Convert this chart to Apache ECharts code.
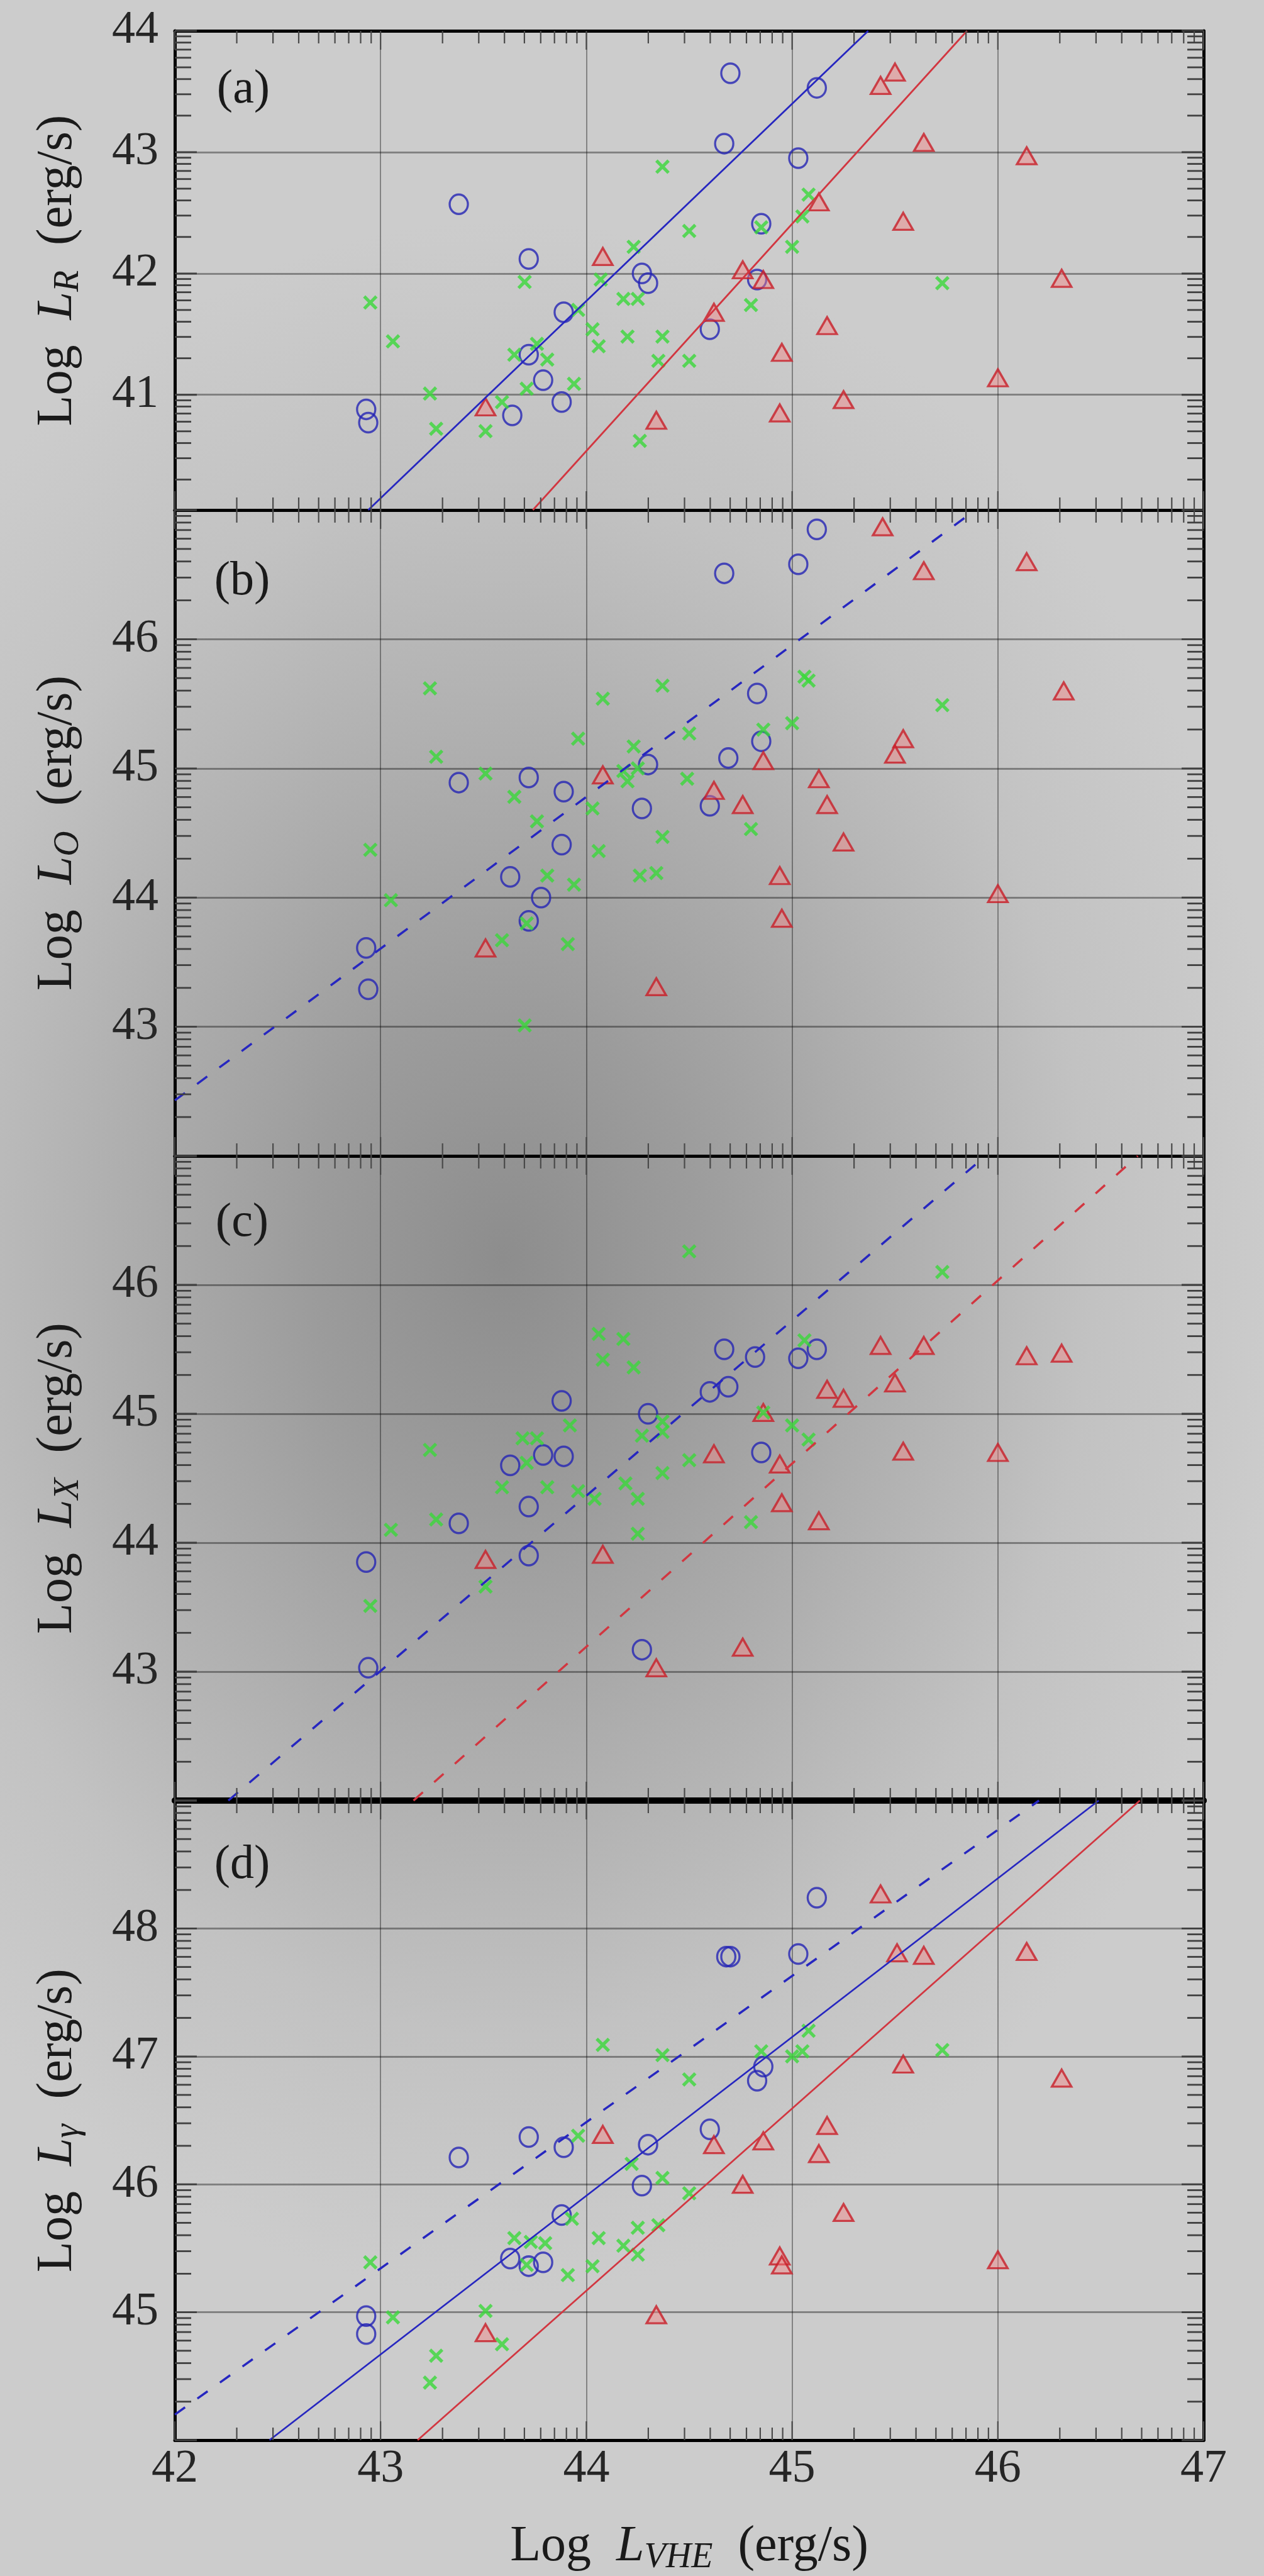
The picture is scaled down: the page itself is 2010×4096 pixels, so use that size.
<!DOCTYPE html>
<html>
<head>
<meta charset="utf-8">
<script src="https://cdn.jsdelivr.net/npm/echarts@6.0.0/dist/echarts.min.js"></script>
<style>
html,body{margin:0;padding:0;}
body{width:2010px;height:4096px;background-color:#cccccc;
background-image:radial-gradient(ellipse 1250px 1650px at 800px 2000px,#8d8d8d 0%,#9c9c9c 25%,#afafaf 50%,#c2c2c2 75%,#cccccc 100%);}
#chart{width:2010px;height:4096px;}
</style>
</head>
<body>
<div id="chart"></div>
<script>
// ---------------- data ----------------
const xTickLabels = [42, 43, 44, 45, 46, 47];
const yTickLabelsA = [41, 42, 43, 44];
const yTickLabelsB = [43, 44, 45, 46];
const yTickLabelsC = [43, 44, 45, 46];
const yTickLabelsD = [45, 46, 47, 48];
const xRange = [42, 47];
const yRangeA = [40.05, 44];
const yRangeB = [42, 47];
const yRangeC = [42, 47];
const yRangeD = [44, 49];
const panelTags = ['(a)', '(b)', '(c)', '(d)'];
const ySubscripts = ['R', 'O', 'X', 'γ'];
const xSubscript = 'VHE';

// panel (a): Log L_R
const aBlue = [[44.70,43.65],[45.12,43.53],[44.67,43.07],[45.03,42.95],[43.38,42.57],[44.85,42.41],[43.72,42.12],[44.27,42.00],[44.30,41.92],[44.83,41.95],[43.89,41.68],[44.60,41.54],[43.72,41.33],[43.79,41.12],[43.88,40.94],[43.64,40.83],[42.93,40.88],[42.94,40.77]];
const aRed = [[45.50,43.66],[45.43,43.55],[45.64,43.08],[46.14,42.97],[45.13,42.59],[45.54,42.43],[44.08,42.14],[44.76,42.03],[44.86,41.95],[46.31,41.96],[44.62,41.68],[45.17,41.57],[44.95,41.35],[46.00,41.14],[45.25,40.96],[43.51,40.90],[44.94,40.85],[44.34,40.79]];
const aGreen = [[44.37,42.88],[45.08,42.65],[45.05,42.47],[44.50,42.35],[44.23,42.22],[45.00,42.22],[44.85,42.38],[44.07,41.95],[43.70,41.93],[45.73,41.92],[42.95,41.76],[44.18,41.79],[44.25,41.79],[44.80,41.74],[43.96,41.70],[43.06,41.44],[44.03,41.54],[44.06,41.40],[44.20,41.48],[44.37,41.48],[43.76,41.42],[43.65,41.33],[43.81,41.29],[44.35,41.28],[44.50,41.28],[43.94,41.09],[43.71,41.05],[43.24,41.01],[43.59,40.94],[43.27,40.72],[43.51,40.70],[44.26,40.62]];
const aBlueFit = [[42.94,40.05],[45.37,44.00]];
const aRedFit = [[43.74,40.05],[45.85,44.00]];

// panel (b): Log L_O
const bBlue = [[45.12,46.85],[45.03,46.58],[44.67,46.51],[44.83,45.58],[44.85,45.21],[44.69,45.08],[44.30,45.03],[43.72,44.93],[43.38,44.89],[43.89,44.82],[44.27,44.69],[44.60,44.71],[43.88,44.41],[43.63,44.16],[43.78,44.00],[43.72,43.82],[42.93,43.61],[42.94,43.29]];
const bRed = [[45.44,46.87],[45.64,46.53],[46.14,46.60],[46.32,45.60],[45.54,45.23],[45.50,45.11],[44.86,45.06],[44.08,44.95],[45.13,44.92],[44.62,44.83],[44.76,44.72],[45.17,44.72],[45.25,44.43],[44.94,44.17],[46.00,44.03],[44.95,43.84],[43.51,43.61],[44.34,43.31]];
const bGreen = [[43.24,45.62],[44.37,45.64],[44.08,45.54],[45.06,45.71],[45.08,45.68],[45.73,45.49],[45.00,45.35],[44.86,45.30],[44.50,45.27],[43.96,45.23],[44.23,45.17],[43.27,45.09],[43.51,44.96],[44.18,44.98],[44.25,45.00],[44.20,44.90],[44.49,44.92],[43.65,44.78],[44.03,44.69],[43.76,44.59],[44.80,44.53],[44.37,44.47],[42.95,44.37],[44.06,44.36],[43.81,44.17],[44.26,44.17],[44.34,44.19],[43.94,44.10],[43.05,43.98],[43.59,43.67],[43.71,43.80],[43.91,43.64],[43.70,43.01]];
const bBlueFitDash = [[42.00,42.43],[45.89,47.00]];

// panel (c): Log L_X
const cBlue = [[44.67,45.50],[44.82,45.44],[45.03,45.43],[45.12,45.50],[44.60,45.17],[44.69,45.21],[43.88,45.10],[44.30,45.00],[44.85,44.70],[43.79,44.68],[43.89,44.67],[43.63,44.60],[43.72,44.28],[43.38,44.15],[43.72,43.90],[42.93,43.85],[42.94,43.03],[44.27,43.17]];
const cRed = [[45.43,45.53],[45.64,45.53],[46.14,45.45],[46.31,45.47],[45.50,45.24],[45.17,45.19],[45.25,45.12],[44.86,45.01],[44.62,44.69],[45.54,44.71],[46.00,44.70],[44.94,44.61],[44.95,44.31],[45.13,44.17],[44.08,43.91],[43.51,43.87],[44.76,43.19],[44.34,43.03]];
const cGreen = [[44.50,46.26],[45.73,46.10],[44.06,45.62],[44.18,45.58],[44.08,45.42],[44.23,45.36],[45.06,45.57],[43.92,44.91],[44.37,44.94],[44.37,44.86],[45.00,44.91],[45.08,44.80],[44.27,44.83],[43.69,44.81],[43.76,44.81],[43.24,44.72],[44.50,44.64],[43.71,44.62],[44.37,44.54],[43.59,44.43],[43.81,44.43],[43.96,44.40],[44.19,44.46],[44.04,44.34],[44.25,44.34],[43.27,44.18],[43.05,44.10],[44.80,44.16],[44.25,44.07],[43.51,43.66],[42.95,43.51],[44.86,45.01]];
const cBlueFitDash = [[42.26,42.00],[45.94,47.00]];
const cRedFitDash = [[43.16,42.00],[46.68,47.00]];

// panel (d): Log L_gamma
const dBlue = [[45.12,48.24],[44.68,47.78],[44.70,47.78],[45.03,47.80],[44.86,46.92],[44.83,46.81],[43.72,46.37],[43.38,46.21],[43.89,46.29],[44.30,46.31],[44.60,46.43],[44.27,45.99],[43.88,45.76],[43.63,45.42],[43.72,45.36],[43.79,45.39],[42.93,44.97],[42.93,44.83]];
const dRed = [[45.43,48.27],[45.51,47.81],[45.64,47.79],[46.14,47.82],[45.54,46.94],[46.31,46.83],[45.17,46.46],[44.08,46.39],[44.62,46.31],[44.86,46.34],[45.13,46.24],[44.76,46.00],[45.25,45.78],[44.94,45.44],[44.95,45.37],[46.00,45.41],[43.51,44.84],[44.34,44.98]];
const dGreen = [[44.08,47.09],[44.37,47.01],[44.50,46.82],[44.85,47.04],[45.00,47.00],[45.05,47.04],[45.08,47.20],[45.73,47.05],[43.96,46.38],[44.22,46.16],[44.37,46.05],[44.50,45.93],[43.93,45.73],[44.06,45.58],[44.18,45.52],[44.25,45.66],[44.35,45.68],[44.25,45.45],[43.65,45.58],[43.73,45.55],[43.80,45.54],[43.71,45.37],[43.91,45.29],[44.03,45.36],[42.95,45.39],[43.06,44.96],[43.51,45.01],[43.59,44.75],[43.27,44.66],[43.24,44.45]];
const dBlueFitDash = [[42.00,44.20],[46.20,49.00]];
const dBlueFit = [[42.46,44.00],[46.49,49.00]];
const dRedFit = [[43.18,44.00],[46.69,49.00]];

// ---------------- layout & style ----------------
const FONT = '"Liberation Serif", "Times New Roman", serif';
const BLUE = '#2424b4', BLUELINE = '#2626c0', RED = '#c81e28', REDLINE = '#d23640', GREEN = '#3ad83a';
const TEXT = '#1a1a1a';
const CROSS = 'path://M0,1.6L1.6,0L5,3.4L8.4,0L10,1.6L6.6,5L10,8.4L8.4,10L5,6.6L1.6,10L0,8.4L3.4,5Z';
const GRID_LEFT = 278, GRID_W = 1636;
const gridTops = [49, 811, 1838, 2863];
const gridHeights = [762, 1027, 1025, 1025];
const tagPos = [[387, 143], [385, 925], [385, 1945], [385, 2966]];
const TICK_X_STYLE = { stroke: '#4a4a4a', lineWidth: 2.2 };
const TICK_Y_STYLE = { stroke: '#404040', lineWidth: 2.8 };
const TICK_LEN = { xMajor: 30, xMinor: 20, yMajor: 35, yMinor: 26 };

const yRanges = [yRangeA, yRangeB, yRangeC, yRangeD];
const yLabelSets = [yTickLabelsA, yTickLabelsB, yTickLabelsC, yTickLabelsD];

function integersIn(lo, hi) {
  const out = [];
  for (let v = Math.ceil(lo - 1e-9); v <= hi + 1e-9; v++) out.push(v);
  return out;
}
function logMinorIn(lo, hi) {
  const out = [];
  for (let n = Math.floor(lo) - 1; n <= Math.ceil(hi); n++) {
    for (let k = 2; k <= 9; k++) {
      const v = n + Math.log10(k);
      if (v > lo + 1e-6 && v < hi - 1e-6) out.push(v);
    }
  }
  return out;
}

const richStyles = {
  r: { fontFamily: FONT, fontSize: 80, color: TEXT, lineHeight: 100, verticalAlign: 'middle' },
  i: { fontFamily: FONT, fontSize: 80, fontStyle: 'italic', color: TEXT, lineHeight: 100, verticalAlign: 'middle' },
  s: { fontFamily: FONT, fontSize: 56, fontStyle: 'italic', color: TEXT, lineHeight: 100, verticalAlign: 'top', padding: [39, 0, 0, 0] }
};
function axisTitle(sub) { return '{r|Log  }{i|L}{s|' + sub + '}{r|  (erg/s)}'; }

const grids = [], xAxes = [], yAxes = [], series = [], graphics = [];

// tick marks drawn through the axis scales (log-style minor ticks like the original)
function tickSeries(g, ylo, yhi) {
  const data = [];
  integersIn(xRange[0], xRange[1]).forEach(v => data.push([v, 0, 1]));
  logMinorIn(xRange[0], xRange[1]).forEach(v => data.push([v, 0, 0]));
  integersIn(ylo, yhi).forEach(v => data.push([v, 1, 1]));
  logMinorIn(ylo, yhi).forEach(v => data.push([v, 1, 0]));
  return {
    type: 'custom', xAxisIndex: 2 * g, yAxisIndex: 2 * g, data: data, clip: false, silent: true, z: 6,
    renderItem: function (params, api) {
      const v = api.value(0), dir = api.value(1), major = api.value(2) === 1;
      const cs = params.coordSys;
      if (dir === 0) {
        const px = api.coord([v, ylo])[0];
        const L = major ? TICK_LEN.xMajor : TICK_LEN.xMinor;
        return { type: 'group', children: [
          { type: 'line', shape: { x1: px, y1: cs.y, x2: px, y2: cs.y + L }, style: TICK_X_STYLE },
          { type: 'line', shape: { x1: px, y1: cs.y + cs.height, x2: px, y2: cs.y + cs.height - L }, style: TICK_X_STYLE }
        ] };
      }
      const py = api.coord([xRange[0], v])[1];
      const L = major ? TICK_LEN.yMajor : TICK_LEN.yMinor;
      return { type: 'group', children: [
        { type: 'line', shape: { x1: cs.x, y1: py, x2: cs.x + L, y2: py }, style: TICK_Y_STYLE },
        { type: 'line', shape: { x1: cs.x + cs.width, y1: py, x2: cs.x + cs.width - L, y2: py }, style: TICK_Y_STYLE }
      ] };
    }
  };
}

for (let g = 0; g < 4; g++) {
  grids.push({ left: GRID_LEFT, width: GRID_W, top: gridTops[g], height: gridHeights[g], containLabel: false });
  const [ylo, yhi] = yRanges[g];
  const bottomW = g === 2 ? 10 : 5;
  const topW = g === 3 ? 10 : 5;
  const isLast = g === 3;
  const xb = { type: 'value', gridIndex: g, min: xRange[0], max: xRange[1], interval: 1 };
  xAxes.push(Object.assign({}, xb, {
    position: 'bottom',
    axisLine: { show: true, onZero: false, lineStyle: { color: '#000', width: bottomW } },
    axisTick: { show: false, customValues: xTickLabels },
    splitLine: { show: true, lineStyle: { color: 'rgba(0,0,0,0.36)', width: 2 } },
    axisLabel: { show: isLast, customValues: xTickLabels, fontFamily: FONT, fontSize: 74, color: '#262626', margin: 10 },
    name: isLast ? axisTitle(xSubscript) : '',
    nameLocation: 'middle', nameGap: 120,
    nameTextStyle: { rich: richStyles }
  }));
  xAxes.push(Object.assign({}, xb, {
    position: 'top',
    axisLine: { show: true, onZero: false, lineStyle: { color: '#000', width: topW } },
    axisTick: { show: false }, splitLine: { show: false }, axisLabel: { show: false }
  }));
  const yb = { type: 'value', gridIndex: g, min: ylo, max: yhi };
  const yInts = integersIn(ylo, yhi);
  yAxes.push(Object.assign({}, yb, {
    position: 'left',
    axisLine: { show: true, onZero: false, lineStyle: { color: '#000', width: 5 } },
    axisTick: { show: false, customValues: yInts },
    splitLine: { show: true, lineStyle: { color: 'rgba(0,0,0,0.36)', width: 3.2 } },
    axisLabel: { show: true, customValues: yLabelSets[g], fontFamily: FONT, fontSize: 74, color: '#262626', margin: 26 },
    name: axisTitle(ySubscripts[g]),
    nameLocation: 'middle', nameGap: 136, nameRotate: 90,
    nameTextStyle: { rich: richStyles }
  }));
  yAxes.push(Object.assign({}, yb, {
    position: 'right',
    axisLine: { show: true, onZero: false, lineStyle: { color: '#000', width: 5 } },
    axisTick: { show: false }, splitLine: { show: false }, axisLabel: { show: false }
  }));

  graphics.push({
    type: 'text', x: tagPos[g][0], y: tagPos[g][1], z: 10,
    style: { text: panelTags[g], font: '76px ' + FONT, fill: '#1a1a1a', align: 'center', verticalAlign: 'middle' }
  });
  series.push(tickSeries(g, ylo, yhi));
}

function circles(g, data) {
  return { type: 'scatter', xAxisIndex: 2 * g, yAxisIndex: 2 * g, data: data, symbol: 'circle', symbolSize: [29, 31],
    itemStyle: { color: 'rgba(0,0,0,0)', borderColor: BLUE, borderWidth: 3.4 }, z: 3, silent: true };
}
function triangles(g, data) {
  return { type: 'scatter', xAxisIndex: 2 * g, yAxisIndex: 2 * g, data: data, symbol: 'triangle', symbolSize: [31, 27],
    itemStyle: { color: 'rgba(245,130,130,0.55)', borderColor: RED, borderWidth: 3.4 }, z: 3, silent: true };
}
function crosses(g, data) {
  return { type: 'scatter', xAxisIndex: 2 * g, yAxisIndex: 2 * g, data: data, symbol: CROSS, symbolSize: 23,
    itemStyle: { color: GREEN }, z: 4, silent: true };
}
function fit(g, data, color, dashed) {
  return { type: 'line', xAxisIndex: 2 * g, yAxisIndex: 2 * g, data: data, symbol: 'none', clip: true, z: 5, silent: true,
    lineStyle: { color: color, width: dashed ? 3.5 : 2.8, type: dashed ? [20, 24] : 'solid' } };
}

series.push(circles(0, aBlue), triangles(0, aRed), crosses(0, aGreen), fit(0, aBlueFit, BLUELINE, false), fit(0, aRedFit, REDLINE, false));
series.push(circles(1, bBlue), triangles(1, bRed), crosses(1, bGreen), fit(1, bBlueFitDash, BLUELINE, true));
series.push(circles(2, cBlue), triangles(2, cRed), crosses(2, cGreen), fit(2, cBlueFitDash, BLUELINE, true), fit(2, cRedFitDash, REDLINE, true));
series.push(circles(3, dBlue), triangles(3, dRed), crosses(3, dGreen), fit(3, dBlueFitDash, BLUELINE, true), fit(3, dBlueFit, BLUELINE, false), fit(3, dRedFit, REDLINE, false));

const chart = echarts.init(document.getElementById('chart'), null, { renderer: 'canvas' });
chart.setOption({
  backgroundColor: 'rgba(0,0,0,0)',
  animation: false,
  grid: grids,
  xAxis: xAxes,
  yAxis: yAxes,
  series: series,
  graphic: graphics
});
</script>
</body>
</html>
